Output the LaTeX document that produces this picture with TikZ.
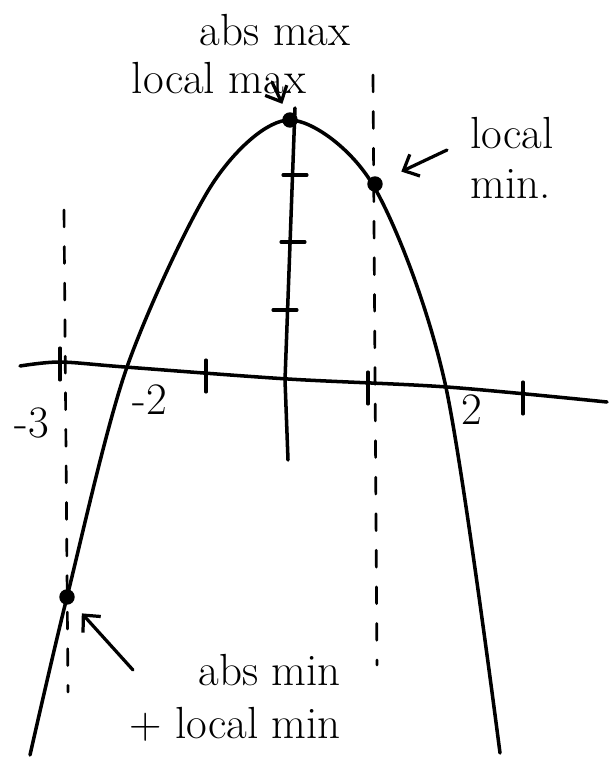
\documentclass[tikz,border=0pt]{standalone}
\usetikzlibrary{arrows.meta,positioning}

\begin{document}
\begin{tikzpicture}[x=0.025cm, y=-0.025cm,
    trazo/.style={line width=2.5pt, line cap=round, line join=round},
    marca/.style={line width=2.2pt, line cap=round},
    guia/.style={line width=1.9pt, dash pattern=on 12pt off 14pt, line cap=round},
    punto/.style={circle, fill=black, inner sep=0pt, minimum size=11pt},
    texto/.style={font=\fontsize{32}{36}\selectfont, inner sep=0pt},
    numero/.style={font=\fontsize{32}{34}\selectfont, inner sep=0pt},
    flecha/.style={-{Straight Barb[length=9pt, width=17pt]}, line width=2.3pt, line cap=round}
  ]
  \useasboundingbox (0,0) rectangle (611,762);

  % Ejes
  \draw[trazo] plot[smooth] coordinates {(20,366) (60,362) (125,367) (288,379) (447,387) (607,402)};
  \draw[trazo] (295,108) -- (285,380) -- (288,460);

  % Marcas
  \foreach \x/\y in {60/364, 206/376, 368/388, 523/398} {
    \draw[marca] (\x,\y-16) -- (\x,\y+16);
  }
  \foreach \x/\y in {295/175, 293/242, 285/310} {
    \draw[marca] (\x-12,\y) -- (\x+12,\y);
  }

  % Numeros
  \node[numero] (nmenos3) at (32,423) {-3};
  \node[numero] (nmenos2) at (150,400) {-2};
  \node[numero] (ndos) at (472,410) {2};

  % Rectas verticales
  \coordinate (g1a) at (64,210);
  \coordinate (g1b) at (68,692);
  \coordinate (g2a) at (373,75);
  \coordinate (g2b) at (377,665);
  \draw[guia] (g1a) -- (g1b);
  \draw[guia] (g2a) -- (g2b);

  % Parabola
  \draw[trazo] plot[smooth] coordinates {(30,755) (67,597) (127,367) (213,183) (290,120) (373,185) (445,383) (500,753)};

  % Puntos
  \node[punto] (pmax) at (290,120) {};
  \node[punto] (pminloc) at (375,184) {};
  \node[punto] (pminabs) at (67,597) {};

  % Textos
  \node[texto] (tmax) at (275,30) {abs max};
  \node[texto] (tlmax) at (219,78) {local max};
  \node[texto, align=left] (tlmin) at (512,158) {local\\min.};
  \node[texto, align=right, font=\fontsize{32}{38}\selectfont] (tamin) at (235,698) {abs min\\+ local min};

  % Flechas
  \coordinate (cmax) at (272,82);
  \coordinate (cminloc) at (447,150);
  \coordinate (cminabs) at (133,670);
  \draw[flecha, shorten >=7pt] (cmax) -- (pmax);
  \draw[flecha, shorten >=15pt] (cminloc) -- (pminloc);
  \draw[flecha, shorten >=10pt] (cminabs) -- (pminabs);
\end{tikzpicture}
\end{document}
